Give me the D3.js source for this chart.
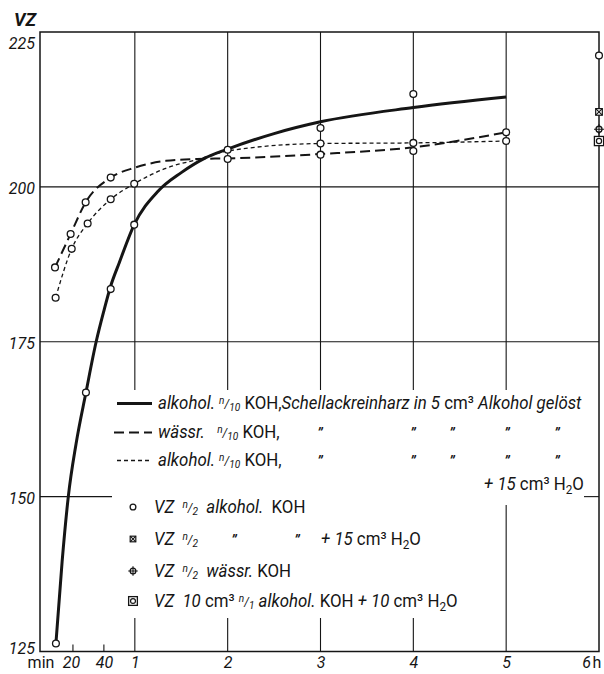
<!DOCTYPE html>
<html>
<head>
<meta charset="utf-8">
<script src="https://cdn.jsdelivr.net/npm/d3@7"></script>
<style>
  body { margin: 0; background: #fff; }
  svg { display: block; }
  text { font-family: Roboto, "Liberation Sans", sans-serif; fill: #151515; }
  .leg text { white-space: pre; }
</style>
</head>
<body>
<svg id="chart" width="604" height="674"></svg>
<script>
// ---- data: time in minutes, VZ (Verseifungszahl) ----
const xTickMinutes = [20, 40, 60, 120, 180, 240, 300, 360];
const xTickLabels  = ["20", "40", "1", "2", "3", "4", "5", "6"];
const yTicks       = [125, 150, 175, 200, 225];
const hourLines    = [60, 120, 180, 240, 300];

// alkohol. n/10 KOH, resin dissolved in 5 cm3 alcohol (solid)
const solidCurve = [[9,126.3],[13,139.5],[17,150],[22,158.5],[28.4,166.8],[35,175],[40,180],[44.4,184],
  [50,187.8],[59.6,193.9],[75,199.3],[90,202.3],[105,204.6],[120,206.1],[150,208.6],[180,210.5],[240,212.8],[300,214.5]];
// wässr. n/10 KOH (long dashes)
const longDashCurve = [[8.4,187],[18.5,192.4],[28.2,197.5],[44.4,201.5],[60,203.1],[80,204.2],[100,204.5],
  [120,204.6],[180,205.3],[240,206.4],[300,208.8]];
// alkohol. n/10 KOH + 15 cm3 H2O (short dashes)
const shortDashCurve = [[8.8,182.1],[19.2,190],[29.5,194.1],[44.4,198],[59.6,200.5],[80,203],[100,204.4],
  [120,205.8],[180,207],[240,207.1],[300,207.4]];

// measured points (open circles)
const solidPoints = [[9,126.3],[28.4,166.8],[44.4,183.5],[59.6,193.9],[120,206],[180,209.5],[240,215]];
const longPoints  = [[8.4,187],[18.5,192.4],[28.2,197.5],[44.4,201.5],[120,204.5],[180,205.2],[240,205.8],[300,208.8]];
const shortPoints = [[8.8,182.1],[19.2,190],[29.5,194.1],[44.4,198],[59.6,200.5],[180,207],[240,207.1],[300,207.4]];

// single determinations after 6 h
const sixHourKinds  = ["circle", "crossSquare", "plusCircle", "doubleSquare"];
const sixHourValues = [221.2, 212.1, 209.3, 207.4];

// legend texts: [text, kind] ; kind: i italic, r roman, sup/fr/sub fraction parts, h2 subscript
const lineLegendRows = [
  [["alkohol. ","i"],["n","sup"],["/","fr"],["10","sub"],[" KOH,","r"],["Schellackreinharz in ","i"],["5","i"],[" cm³ ","r"],["Alkohol gelöst","i"]],
  [["wässr.   ","i"],["n","sup"],["/","fr"],["10","sub"],[" KOH,","r"]],
  [["alkohol. ","i"],["n","sup"],["/","fr"],["10","sub"],[" KOH,","r"]]
];
const lineLegendDash = [null, "10,5", "4,3"];
const dittoColumns = [320, 413, 452, 507, 557];
const markerLegendRows = [
  [["VZ  ","i"],["n","sup"],["/","fr"],["2","sub"],["  alkohol.  ","i"],["KOH","r"]],
  [["VZ  ","i"],["n","sup"],["/","fr"],["2","sub"]],
  [["VZ  ","i"],["n","sup"],["/","fr"],["2","sub"],["  wässr. ","i"],["KOH","r"]],
  [["VZ  10 ","i"],["cm³ ","r"],["n","sup"],["/","fr"],["1","sub"],[" alkohol. ","i"],["KOH ","r"],["+ 10 ","i"],["cm³ H","r"],["2","h2"],["O","r"]]
];
const waterNote = [["+ 15 ","i"],["cm³ H","r"],["2","h2"],["O","r"]];

// ---- scales ----
const svg = d3.select("#chart");
const x = d3.scaleLinear().domain([0, 360]).range([42, 599]);
const y = d3.scaleLinear().domain([125, 225]).range([651.5, 32]);
const L = 40, R = x(360), T = y(225), B = y(125);

// legend region that interrupts the grid
const legTop = 390, legBottom = 618, legResume5h = 505, gap150 = [112, 584];

const ink = "#151515";

// ---- grid ----
const grid = svg.append("g").attr("stroke", ink).attr("stroke-width", 1.1).attr("fill", "none");
[175, 200].forEach(v => grid.append("line").attr("x1", L).attr("x2", R).attr("y1", y(v)).attr("y2", y(v)));
grid.append("line").attr("x1", L).attr("x2", gap150[0]).attr("y1", y(150)).attr("y2", y(150));
grid.append("line").attr("x1", gap150[1]).attr("x2", R).attr("y1", y(150)).attr("y2", y(150));
hourLines.forEach(m => {
  grid.append("line").attr("x1", x(m)).attr("x2", x(m)).attr("y1", T).attr("y2", legTop);
  grid.append("line").attr("x1", x(m)).attr("x2", x(m)).attr("y1", m === 300 ? legResume5h : legBottom).attr("y2", B);
});

// frame
svg.append("rect").attr("x", L).attr("y", T).attr("width", R - L).attr("height", B - T)
  .attr("fill", "none").attr("stroke", ink).attr("stroke-width", 1.5);

// small minute ticks
[20, 40].forEach(m => svg.append("line").attr("x1", x(m)).attr("x2", x(m)).attr("y1", B).attr("y2", B - 7)
  .attr("stroke", ink).attr("stroke-width", 1.1));

// ---- axes labels ----
const xAxis = svg.append("g").attr("transform", `translate(0,${B})`)
  .call(d3.axisBottom(x).tickValues(xTickMinutes).tickSize(0).tickPadding(0)
    .tickFormat((d, i) => xTickLabels[i]));
xAxis.select(".domain").remove();
xAxis.selectAll("text").attr("y", 16).attr("dy", 0)
  .style("font-size", "16px").style("font-style", "italic").attr("fill", ink)
  .attr("dx", d => d === 20 ? -2 : (d === 360 ? -13 : 0));
xAxis.selectAll(".tick").filter(d => d === 360).append("text")
  .attr("x", -7).attr("y", 16).attr("text-anchor", "start").style("font-size", "16px").attr("fill", ink).text("h");
svg.append("text").attr("x", 41).attr("y", B + 16).attr("text-anchor", "middle").style("font-size", "16px").text("min");

const yAxis = svg.append("g").attr("transform", `translate(${L},0)`)
  .call(d3.axisLeft(y).tickValues(yTicks).tickSize(0).tickPadding(5));
yAxis.select(".domain").remove();
yAxis.selectAll("text").style("font-size", "16px").style("font-style", "italic").attr("fill", ink)
  .attr("dy", d => d === 225 ? "1.05em" : (d === 125 ? "0.1em" : "0.4em"));
svg.append("text").attr("x", 14).attr("y", 26).style("font-size", "18px").style("font-style", "italic")
  .style("font-weight", "bold").text("VZ");

// ---- curves ----
const line = d3.line().x(d => x(d[0])).y(d => y(d[1])).curve(d3.curveMonotoneX);
svg.append("path").datum(solidCurve).attr("d", line).attr("fill", "none").attr("stroke", ink).attr("stroke-width", 3);
svg.append("path").datum(longDashCurve).attr("d", line).attr("fill", "none").attr("stroke", ink)
  .attr("stroke-width", 2).attr("stroke-dasharray", "10,5");
svg.append("path").datum(shortDashCurve).attr("d", line).attr("fill", "none").attr("stroke", ink)
  .attr("stroke-width", 1.3).attr("stroke-dasharray", "4,3");

// ---- point markers ----
function marker(g, kind, cx, cy, s) {
  const k = s || 1;
  if (kind === "circle") {
    g.append("circle").attr("cx", cx).attr("cy", cy).attr("r", 3.4 * k).attr("fill", "#fff").attr("stroke", ink).attr("stroke-width", 1.3);
  } else if (kind === "crossSquare") {
    const h = 3.3 * k;
    g.append("rect").attr("x", cx - h).attr("y", cy - h).attr("width", 2 * h).attr("height", 2 * h).attr("fill", "#fff").attr("stroke", ink).attr("stroke-width", 1.2);
    g.append("path").attr("d", `M${cx - h},${cy - h}L${cx + h},${cy + h}M${cx + h},${cy - h}L${cx - h},${cy + h}`).attr("stroke", ink).attr("stroke-width", 1.1);
  } else if (kind === "plusCircle") {
    g.append("circle").attr("cx", cx).attr("cy", cy).attr("r", 3 * k).attr("fill", "#fff").attr("stroke", ink).attr("stroke-width", 1.3);
    g.append("path").attr("d", `M${cx - 5 * k},${cy}L${cx + 5 * k},${cy}M${cx},${cy - 5 * k}L${cx},${cy + 5 * k}`).attr("stroke", ink).attr("stroke-width", 1.1);
  } else if (kind === "doubleSquare") {
    const h = 4.6 * k;
    g.append("rect").attr("x", cx - h).attr("y", cy - h).attr("width", 2 * h).attr("height", 2 * h).attr("fill", "#fff").attr("stroke", ink).attr("stroke-width", 1.3);
    g.append("circle").attr("cx", cx).attr("cy", cy).attr("r", 2.6 * k).attr("fill", "#fff").attr("stroke", ink).attr("stroke-width", 1.2);
  }
}
const pts = svg.append("g");
[solidPoints, longPoints, shortPoints].forEach(set =>
  set.forEach(d => marker(pts, "circle", x(d[0]), y(d[1]))));
sixHourValues.forEach((v, i) => marker(pts, sixHourKinds[i], x(360), y(v)));

// ---- legend ----
const legFont = 18;
function rich(t, parts) {
  let shift = 0;
  parts.forEach(([s, k]) => {
    const ts = t.append("tspan").text(s);
    let target = 0, size = null, style = "italic";
    if (k === "r") style = "normal";
    if (k === "sup") { target = -5; size = 0.6; }
    if (k === "fr")  { target = -1; size = 0.7; }
    if (k === "sub") { target = 2;  size = 0.6; }
    if (k === "h2")  { target = 4;  size = 0.7; style = "normal"; }
    ts.attr("dy", target - shift); shift = target;
    ts.style("font-style", style);
    if (size) ts.style("font-size", size + "em");
  });
}
const leg = svg.append("g").attr("class", "leg");
// condensed type: one horizontal squeeze for all legend lines
function legendText(x0, y0, parts) {
  const g = leg.append("g").attr("transform", `translate(${x0},${y0})`);
  const t = g.append("text").style("font-size", legFont + "px");
  rich(t, parts);
  return g;
}
const probe = legendText(0, -100, lineLegendRows[0]);
const squeeze = 424 / probe.select("text").node().getComputedTextLength();
probe.remove();
function squeezed(x0, y0, parts) {
  const g = legendText(x0, y0, parts);
  g.attr("transform", `translate(${x0},${y0}) scale(${squeeze},1)`);
  return g;
}
function ditto(cx, cy) {
  leg.append("text").attr("x", cx).attr("y", cy).attr("text-anchor", "middle")
    .style("font-size", "14px").style("font-style", "italic").style("font-weight", "bold").text("\u201D");
}

const lineRowsY = [409, 438, 466];
lineLegendRows.forEach((parts, i) => {
  const ly = lineRowsY[i] - 5.5;
  const seg = leg.append("line").attr("x1", i === 1 ? 114 : 117).attr("x2", 152).attr("y1", ly).attr("y2", ly).attr("stroke", ink);
  if (i === 0) seg.attr("stroke-width", 3);
  if (i === 1) seg.attr("stroke-width", 2).attr("stroke-dasharray", lineLegendDash[1]);
  if (i === 2) seg.attr("stroke-width", 1.3).attr("stroke-dasharray", lineLegendDash[2]);
  squeezed(158, lineRowsY[i], parts);
  if (i > 0) dittoColumns.forEach(cx => ditto(cx, lineRowsY[i]));
});
squeezed(484, 490, waterNote);

const markRowsY = [513, 545, 577, 607];
const markKinds = ["circle", "crossSquare", "plusCircle", "doubleSquare"];
const markScale = [0.85, 0.85, 0.95, 0.95];
markerLegendRows.forEach((parts, i) => {
  marker(leg, markKinds[i], 133, markRowsY[i] - 6, markScale[i]);
  squeezed(154, markRowsY[i], parts);
});
[234, 297].forEach(cx => ditto(cx, markRowsY[1]));
squeezed(321, markRowsY[1], waterNote);
</script>
</body>
</html>
